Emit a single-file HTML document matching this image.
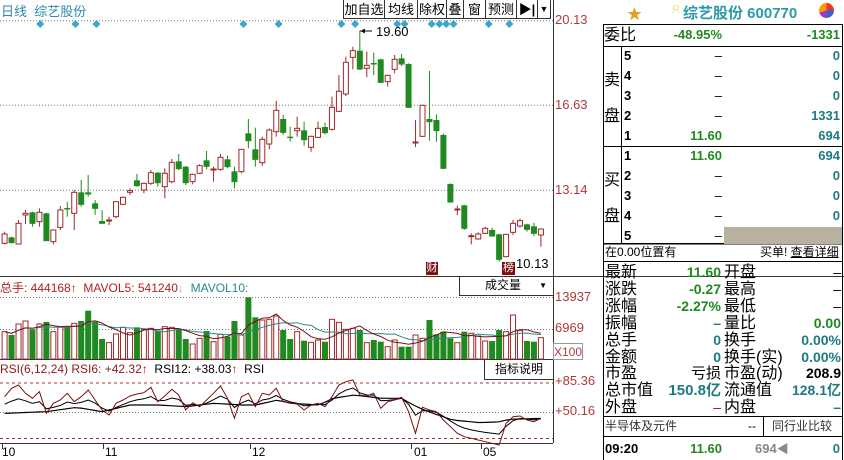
<!DOCTYPE html>
<html><head><meta charset="utf-8"><style>
body{margin:0;width:844px;height:460px;background:#fff;overflow:hidden;position:relative;font-family:"Liberation Sans","Noto Sans CJK SC",sans-serif}
.a{position:absolute;white-space:nowrap}
.btn{position:absolute;top:0;height:19px;border:1px solid #333;border-top:none;font-size:13px;line-height:19px;text-align:center;box-sizing:border-box;background:#fff}
.g{color:#1f8a1f;font-weight:bold}
.t{color:#1f7a80;font-weight:bold}
.r{position:absolute;font-size:13px;line-height:20px;white-space:nowrap}
.s{position:absolute;font-size:16px;line-height:17px;white-space:nowrap;color:#000}
</style></head><body>
<svg id="sv" class="a" style="left:0;top:0" width="844" height="460"></svg>
<div class="a" style="left:1px;top:1px;font-size:13px;color:#2a8aa8">日线 &nbsp;综艺股份</div>
<div class="btn" style="left:343px;width:42px">加自选</div>
<div class="btn" style="left:384px;width:34px">均线</div>
<div class="btn" style="left:417px;width:30px">除权</div>
<div class="btn" style="left:446px;width:18px">叠</div>
<div class="btn" style="left:463px;width:23px">窗</div>
<div class="btn" style="left:485px;width:32px">预测</div>
<div class="btn" style="left:516px;width:22px;font-weight:bold">▶|</div>
<div class="btn" style="left:537px;width:14px;font-size:9px">▼</div>
<div class="a" style="left:555px;top:12px;font-size:13px;color:#b03a3a">20.13</div>
<div class="a" style="left:555px;top:97px;font-size:13px;color:#b03a3a">16.63</div>
<div class="a" style="left:555px;top:182px;font-size:13px;color:#b03a3a">13.14</div>
<div class="a" style="left:376px;top:24px;font-size:13px">19.60</div>
<div class="a" style="left:516px;top:256px;font-size:13px">10.13</div>
<div class="a" style="left:426px;top:262px;width:12px;height:13px;background:#7a1010;color:#fff;font-size:11px;line-height:13px;text-align:center">财</div>
<div class="a" style="left:502px;top:262px;width:13px;height:13px;background:#7a1010;color:#fff;font-size:11px;line-height:13px;text-align:center">榜</div>
<div class="a" style="left:0;top:279px;font-size:12px;color:#b02020;width:251px;overflow:hidden">总手: 444168<b>↑</b> &nbsp;MAVOL5: 541240<span style="color:#6cd">↓</span> &nbsp;<span style="color:#2a8a8a">MAVOL10: 528000</span></div>
<div class="a" style="left:459px;top:276px;width:94px;height:20px;border-left:1px solid #333;border-bottom:1px solid #333;box-sizing:border-box;font-size:12px;line-height:19px"><span style="margin-left:25px">成交量</span><span style="position:absolute;right:6px;font-size:8px">▼</span></div>
<div class="a" style="left:555px;top:289px;font-size:13px;color:#b03a3a">13937</div>
<div class="a" style="left:555px;top:320px;font-size:13px;color:#b03a3a">6969</div>
<div class="a" style="left:553px;top:343px;width:30px;height:17px;border:1px solid #999;box-sizing:border-box;font-size:12px;line-height:16px;color:#b03a3a">X100</div>
<div class="a" style="left:0;top:362px;font-size:12px;color:#8b1a1a">RSI(6,12,24) RSI6: +42.32<b style="color:#d00">↑</b> &nbsp;<span style="color:#000">RSI12: +38.03</span><b style="color:#d00">↑</b> &nbsp;<span style="color:#000">RSI</span></div>
<div class="a" style="left:484px;top:360px;width:69px;height:20px;border-left:1px solid #333;border-bottom:1px solid #333;box-sizing:border-box;font-size:12px;line-height:19px;text-align:center">指标说明</div>
<div class="a" style="left:555px;top:373px;font-size:13px;color:#b03a3a">+85.36</div>
<div class="a" style="left:555px;top:403px;font-size:13px;color:#b03a3a">+50.16</div>
<div class="a" style="left:2px;top:445px;font-size:12px">10</div>
<div class="a" style="left:105px;top:445px;font-size:12px">11</div>
<div class="a" style="left:252px;top:445px;font-size:12px">12</div>
<div class="a" style="left:414px;top:445px;font-size:12px">01</div>
<div class="a" style="left:483px;top:445px;font-size:12px">05</div>

<!-- right panel -->
<div class="a" style="left:627px;top:3px;color:#e0a020;font-size:15px">★</div>
<div class="a" style="left:672px;top:4px;color:#e8e890;font-size:11px">R</div>
<div class="a" style="left:683px;top:2px;color:#2a9aa8;font-size:15px;font-weight:bold">综艺股份 600770</div>
<div class="a" style="left:819px;top:3px;width:15px;height:15px;border-radius:50%;background:conic-gradient(#e33 0 25%,#36c 25% 50%,#a3c 50% 70%,#f90 70%)"></div>
<div class="s" style="left:604px;top:27px">委比</div>
<div class="r g" style="left:640px;top:25px;width:82px;text-align:right">-48.95%</div>
<div class="r g" style="left:740px;top:25px;width:100px;text-align:right">-1331</div>
<div class="s" style="left:604px;top:72px">卖</div><div class="s" style="left:604px;top:108px">盘</div>
<div class="s" style="left:604px;top:172px">买</div><div class="s" style="left:604px;top:208px">盘</div>
<div id="ob"></div>
<div class="a" style="left:724px;top:227px;width:118px;height:17px;background:#b9b19f"></div>
<div class="a" style="left:605px;top:245px;font-size:12px;line-height:15px">在0.00位置有</div>
<div class="a" style="left:760px;top:245px;font-size:12px;line-height:15px">买单! <u>查看详细</u></div>
<div id="st"></div>
<div class="a" style="left:605px;top:418px;font-size:12px;line-height:17px;color:#333">半导体及元件</div>
<div class="a" style="left:748px;top:418px;font-size:12px;line-height:17px">--</div>
<div class="a" style="left:772px;top:418px;font-size:12px;line-height:17px;color:#333">同行业比较</div>
<div class="r" style="left:605px;top:439px;font-weight:bold">09:20</div>
<div class="r g" style="left:640px;top:439px;width:82px;text-align:right">11.60</div>
<div class="r" style="left:755px;top:439px;color:#888;font-weight:bold">694<span style="font-size:12px">◀</span></div>
<div class="r t" style="left:800px;top:439px;width:40px;text-align:right">0</div>
<script>
const NS="http://www.w3.org/2000/svg",sv=document.getElementById('sv');
function el(t,a){const e=document.createElementNS(NS,t);for(const k in a)e.setAttribute(k,a[k]);sv.appendChild(e);return e}
function ln(x1,y1,x2,y2,c,w,d){const o={x1,y1,x2,y2,stroke:c,'stroke-width':w||1};if(d)o['stroke-dasharray']=d;return el('line',o)}
// frames
ln(553.5,0,553.5,443,'#333');ln(0,276.5,844,276.5,'#333');ln(0,359.5,553,359.5,'#333');ln(0,443.5,553,443.5,'#333');
[20.7,105.3,190.3].forEach(y=>ln(0,y,553,y,'#777',1,'1,2'));
ln(0,297.5,553,297.5,'#777',1,'1,2');ln(0,329.5,553,329.5,'#777',1,'1,2');
ln(0,383,553,383,'#b03030',1,'3,3');ln(0,412.5,553,412.5,'#777',1,'1,2');ln(0,438.5,553,438.5,'#b03030',1,'3,3');
[2,103,250,411,481].forEach(x=>ln(x+.5,443,x+.5,449,'#333'));ln(459.5,276,459.5,281,'#333');
// candles: [color, bodyTop, bodyBot, wickTop, wickBot] zoom coords
const C=[['r',702,730,695,733],['g',712,728,710,730],['r',670,732,660,733],['r',640,645,630,672],['g',637,670,635,680],['r',637,665,625,680],['g',640,722,638,722],['r',690,725,688,733],['r',630,682,618,690],['g',624,626,605,650],['r',577,640,570,690],['g',577,613,540,620],['g',577,582,525,590],['g',610,625,600,645],['g',663,670,630,670],['r',660,663,650,675],['r',605,650,605,655],['r',592,613,590,615],['r',572,577,565,585],['g',541,557,522,560],['r',550,570,548,580],['r',518,550,510,555],['g',518,548,516,560],['r',520,560,505,595],['r',487,545,477,550],['g',484,506,462,510],['g',500,548,498,555],['r',523,545,521,553],['r',497,520,493,522],['g',481,499,453,508],['r',507,510,500,545],['r',472,508,462,512],['g',478,500,467,505],['g',514,545,500,565],['r',448,515,446,520],['g',400,422,357,445],['g',448,478,383,500],['r',418,488,410,497],['r',390,432,385,448],['r',331,395,303,410],['g',357,397,345,405],['g',410,412,380,425],['r',385,392,350,410],['g',391,419,365,437],['r',409,442,407,455],['r',385,412,365,414],['g',381,398,368,403],['r',322,388,290,392],['r',274,334,225,336],['r',187,282,170,288],['r',152,172,140,208],['g',152,207,92,210],['r',196,205,155,232],['g',189,191,158,225],['g',178,247,176,249],['r',226,245,224,260],['r',178,208,165,220],['g',175,192,162,198],['g',192,322,190,324],['r',426,428,360,441],['r',316,409,314,411],['g',357,365,213,422],['g',360,392,343,425],['g',405,505,400,507],['g',552,606,550,608],['r',627,630,617,645],['g',616,685,614,690],['r',707,709,700,733],['r',702,717,697,719],['r',685,700,680,702],['g',690,708,683,710],['g',703,778,701,785],['r',703,770,701,772],['r',670,697,660,705],['r',662,678,656,683],['g',673,688,671,695],['g',679,700,668,708],['r',687,705,685,740]];
const X=i=>(12+18.2*i)/2.613, RC='#a0282a', GC='#1f8a1f';
C.forEach((c,i)=>{const x=X(i),col=c[0]=='r'?RC:GC;
 ln(x,c[3]/3,x,c[4]/3,col);let h=(c[2]-c[1])/3;if(h<1)h=1;
 if(c[0]=='r')el('rect',{x:x-2.5,y:c[1]/3,width:5,height:h,fill:'#fff',stroke:col});
 else el('rect',{x:x-3,y:c[1]/3,width:6,height:h+0.5,fill:col});});
ln(X(51),31,372,31,'#000');el('path',{d:'M'+(X(51)+1)+' 31 l4 -2.5 v5z',fill:'#000'});
// diamonds
[105,197,252,636,728,892,928,1038,1057,1128,1148,1166,1185,1277,1331].forEach(zx=>{const x=zx/2.613;el('path',{d:`M${x} 20 l4 4 l-4 4 l-4 -4z`,fill:'#3aa6c8'})});
// volume
const V=[185,195,162,153,178,162,156,185,170,172,160,153,122,155,207,218,192,172,188,172,178,175,182,170,172,178,207,222,205,183,215,193,200,153,195,82,142,150,148,138,180,207,185,212,217,210,215,148,157,178,175,180,218,210,215,230,210,230,230,195,205,150,193,185,205,218,185,190,198,213,213,180,185,135,182,213,215,203];
const base=359,vy=z=>270+z/3;
const vals=V.map(z=>base-vy(z));
V.forEach((z,i)=>{const x=X(i),y=vy(z),col=C[i][0]=='r'?RC:GC;
 if(C[i][0]=='r')el('rect',{x:x-2.5,y:y,width:5,height:base-y,fill:'#fff',stroke:col});
 else el('rect',{x:x-3,y:y,width:6,height:base-y,fill:col});});
function ma(n){return vals.map((v,i)=>{let s=0,k=0;for(let j=Math.max(0,i-n+1);j<=i;j++){s+=vals[j];k++}return s/k})}
function poly(pts,col,w){el('polyline',{points:pts.map(p=>p[0].toFixed(1)+','+p[1].toFixed(1)).join(' '),fill:'none',stroke:col,'stroke-width':w||1})}
poly(ma(10).map((v,i)=>[X(i),base-v]),'#2a8a8a');
poly(ma(5).map((v,i)=>[X(i),base-v]),'#7a1010');
// RSI
const R6=[380,355,345,370,385,365,430,400,390,370,395,380,360,390,420,435,400,390,378,372,368,352,395,378,358,375,420,398,410,390,370,348,385,445,380,370,410,370,375,355,395,400,402,420,405,400,410,380,345,335,330,375,378,370,415,395,390,382,425,490,412,420,425,450,470,490,500,505,510,515,520,525,460,440,438,450,455,445];
const K24=[[12,430],[121,425],[200,412],[267,425],[340,405],[413,405],[486,410],[559,400],[633,405],[669,405],[725,390],[761,400],[834,405],[870,385],[925,375],[998,385],[1053,385],[1071,400],[1108,420],[1182,450],[1255,458],[1310,455],[1329,448],[1420,445]];
function interp(zx){for(let k=0;k<K24.length-1;k++){const a=K24[k],b=K24[k+1];if(zx>=a[0]&&zx<=b[0])return a[1]+(b[1]-a[1])*(zx-a[0])/(b[0]-a[0])}return K24[K24.length-1][1]}
const R24=R6.map((v,i)=>interp(12+18.2*i));
let s=R24[0];const R12=R6.map((v,i)=>{const t=(R24[i]*0.45+v*0.55);s=i?s*0.35+t*0.65:t;return s});
const ry=z=>270+z/3;
poly(R24.map((v,i)=>[X(i),ry(v)]),'#000',1.2);
poly(R12.map((v,i)=>[X(i),ry(v)]),'#000',1);
poly(R6.map((v,i)=>[X(i),ry(v)]),'#7a1010',1);
// right panel frame
function L(x1,y1,x2,y2,c){ln(x1,y1,x2,y2,c||'#000')}
L(603.5,24,603.5,460);L(842.5,24,842.5,460);L(603,24.5,843,24.5);L(603,46.5,843,46.5);L(603,146.5,843,146.5);L(603,244,843,244,'#000');
L(603,243.5,843,243.5);L(603,261.5,843,261.5);L(621.5,46,621.5,244);L(603,416.5,843,416.5);L(603,436.5,843,436.5);L(763.5,416,763.5,436);
</script>
<script>
let h='';const rows=[['5','–','0'],['4','–','0'],['3','–','0'],['2','–','1331'],['1','11.60','694'],['1','11.60','694'],['2','–','0'],['3','–','0'],['4','–','0'],['5','–','0']];
rows.forEach((r,i)=>{const y=47+i*20+(i>=5?0:0)-1;
h+=`<div class="r" style="left:624px;top:${y}px;font-weight:bold">${r[0]}</div>`;
h+=`<div class="r ${r[1]=='–'?'':'g'}" style="left:640px;top:${y}px;width:82px;text-align:right">${r[1]}</div>`;
h+=`<div class="r t" style="left:740px;top:${y}px;width:100px;text-align:right">${r[2]}</div>`;});
document.getElementById('ob').innerHTML=h;
const st=[['最新','11.60','g','开盘','–',''],['涨跌','-0.27','g','最高','–',''],['涨幅','-2.27%','g','最低','–',''],['振幅','–','t','量比','0.00','g'],['总手','0','t','换手','0.00%','t'],['金额','0','t','换手(实)','0.00%','t'],['市盈','亏损','','市盈(动)','208.9','b'],['总市值','150.8亿','t','流通值','128.1亿','t'],['外盘','–','rd','内盘','–','t']];
h='';st.forEach((r,i)=>{const y=264+i*16.9;
const cs=c=>c=='g'?'color:#1f8a1f;font-weight:bold':c=='t'?'color:#1f7a80;font-weight:bold':c=='rd'?'color:#c00':c=='b'?'font-weight:bold':'';
h+=`<div class="s" style="left:605px;top:${y}px">${r[0]}</div>`;
h+=`<div class="s" style="left:640px;top:${y}px;width:81px;text-align:right;font-size:${/亿|亏/.test(r[1])?15:14}px;${cs(r[2])}">${r[1]}</div>`;
h+=`<div class="s" style="left:724px;top:${y}px">${r[3]}</div>`;
h+=`<div class="s" style="left:780px;top:${y}px;width:61px;text-align:right;font-size:14px;${cs(r[5])}">${r[4]}</div>`;});
document.getElementById('st').innerHTML=h;
</script>
</body></html>
